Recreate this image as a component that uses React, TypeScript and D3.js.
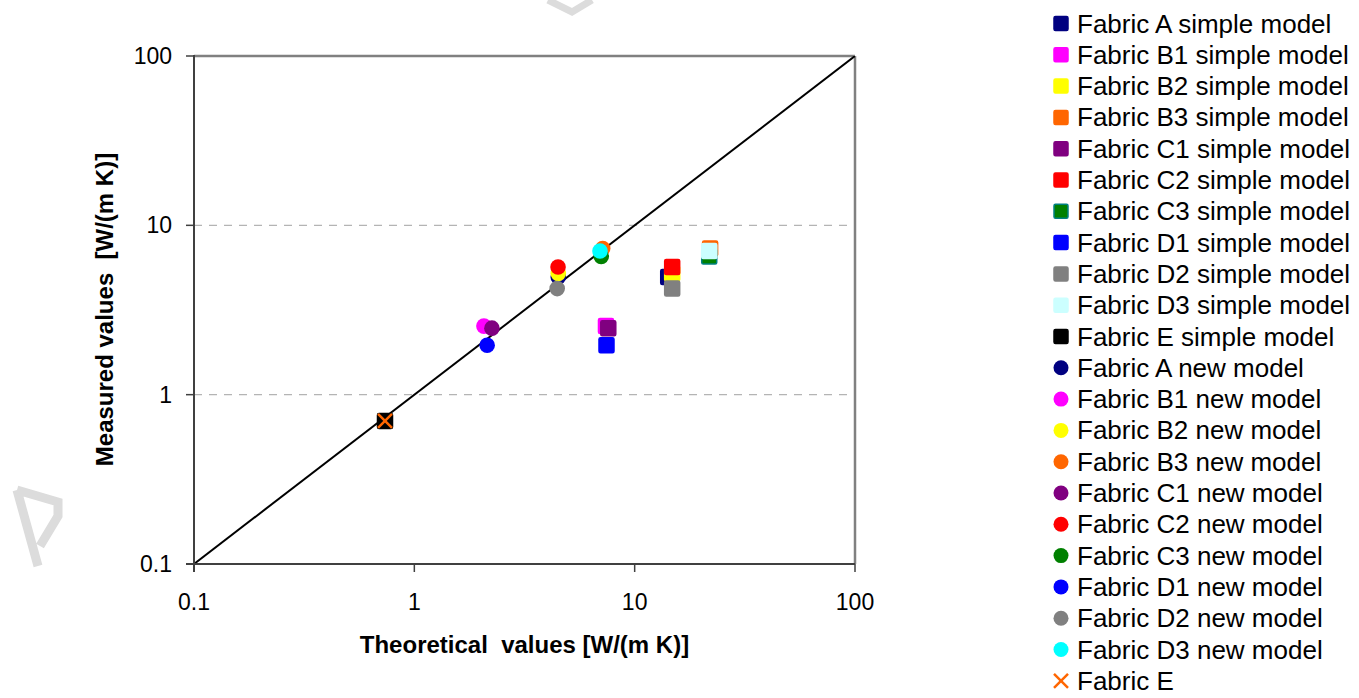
import React from "react";
import * as d3 from "d3";

const fabrics = ["A", "B1", "B2", "B3", "C1", "C2", "C3", "D1", "D2", "D3", "E"];
const simpleTheoretical = [14.2, 7.41, 14.8, 22.0, 7.59, 14.8, 21.8, 7.45, 14.8, 21.8, 0.736];
const newTheoretical = [4.5, 2.07, 4.5, 7.16, 2.25, 4.49, 7.05, 2.14, 4.45, 6.96];
const measured = [4.95, 2.54, 5.2, 7.3, 2.47, 5.68, 6.55, 1.96, 4.23, 7.05, 0.7];
const fabricETheoretical = 0.736;
const fabricEMeasured = 0.7;

const simpleFill = ["#000080", "#FF00FF", "#FFFF00", "#FF6600", "#800080", "#FF0000", "#008000", "#0000FF", "#808080", "#CCFFFF", "#000000"];
const simpleStroke = ["#000080", "#FF00FF", "#FFFF00", "#FF6600", "#800080", "#FF0000", "#008080", "#0000FF", "#808080", "#CCFFFF", "#000000"];
const newFill = ["#000080", "#FF00FF", "#FFFF00", "#FF6600", "#800080", "#FF0000", "#008000", "#0000FF", "#808080", "#00FFFF"];
const crossColor = "#FF6600";

const tickValues = [0.1, 1, 10, 100];
const tickLabels = ["0.1", "1", "10", "100"];
const gridValues = [1, 10];

const xTitle = "Theoretical  values [W/(m K)]";
const yTitle = "Measured values  [W/(m K)]";

const FONT = "'Liberation Sans', Arial, Helvetica, sans-serif";

export default function App() {
  const W = 1359;
  const H = 698;
  const left = 194, right = 855, top = 56, bottom = 564;
  const x = d3.scaleLog().domain([0.1, 100]).range([left, right]);
  const y = d3.scaleLog().domain([0.1, 100]).range([bottom, top]);

  const sq = 15;
  const r = 7.8;

  const diag = d3.line<number>().x((v) => x(v)).y((v) => y(v))([0.1, 100]) || "";

  type LegendItem = { label: string; kind: "square" | "circle" | "cross"; fill: string; stroke: string };
  const legendItems: LegendItem[] = [];
  fabrics.forEach((f, i) => legendItems.push({ label: `Fabric ${f} simple model`, kind: "square", fill: simpleFill[i], stroke: simpleStroke[i] }));
  fabrics.slice(0, 10).forEach((f, i) => legendItems.push({ label: `Fabric ${f} new model`, kind: "circle", fill: newFill[i], stroke: newFill[i] }));
  legendItems.push({ label: "Fabric E", kind: "cross", fill: crossColor, stroke: crossColor });

  const legendX = 1061;
  const legendY0 = 23.5;
  const legendStep = 31.3;

  return (
    <svg width={W} height={H} style={{ position: "absolute", left: 0, top: 0, background: "#fff" }} fontFamily={FONT}>
      <rect x={0} y={0} width={W} height={H} fill="#fff" />
      {/* watermark fragments */}
      <path d="M17,490 L38,566 M17,490 L58,502 L58,516 L40,546" fill="none" stroke="#dcdcdc" strokeWidth={9} strokeLinejoin="miter" />
      <path d="M548,0 L572,12 L592,0" fill="none" stroke="#dcdcdc" strokeWidth={7} />
      <defs>
        <clipPath id="plotClip">
          <rect x={left} y={top} width={right - left} height={bottom - top} />
        </clipPath>
      </defs>
      {/* gridlines */}
      {gridValues.map((g) => (
        <line key={"g" + g} x1={left} x2={right} y1={y(g)} y2={y(g)} stroke="#b4b4b4" strokeWidth={1.2} strokeDasharray="8,7" />
      ))}
      {/* plot border */}
      <line x1={left} x2={right} y1={top} y2={top} stroke="#808080" strokeWidth={2.5} />
      <line x1={right} x2={right} y1={top} y2={bottom} stroke="#808080" strokeWidth={2.5} />
      {/* diagonal */}
      <path d={diag} stroke="#000" strokeWidth={2} fill="none" clipPath="url(#plotClip)" />
      {/* axes */}
      <line x1={left} x2={left} y1={top - 1} y2={bottom + 8} stroke="#404040" strokeWidth={2} />
      <line x1={left - 8} x2={right} y1={bottom} y2={bottom} stroke="#404040" strokeWidth={2} />
      {tickValues.map((t, i) => (
        <g key={"yt" + t}>
          <line x1={left - 8} x2={left} y1={y(t)} y2={y(t)} stroke="#404040" strokeWidth={1.5} />
          <text x={172} y={y(t) + 8} textAnchor="end" fontSize={23} fill="#000">{tickLabels[i]}</text>
        </g>
      ))}
      {tickValues.map((t, i) => (
        <g key={"xt" + t}>
          <line x1={x(t)} x2={x(t)} y1={bottom} y2={bottom + 8} stroke="#404040" strokeWidth={1.5} />
          <text x={x(t)} y={610} textAnchor="middle" fontSize={23} fill="#000">{tickLabels[i]}</text>
        </g>
      ))}
      {/* titles */}
      <text x={(left + right) / 2} y={653} textAnchor="middle" fontSize={24} fontWeight="bold" fill="#000" style={{ whiteSpace: "pre" }}>{xTitle}</text>
      <text transform={`translate(113,${(153 + 466) / 2}) rotate(-90)`} textAnchor="middle" fontSize={24} fontWeight="bold" fill="#000" style={{ whiteSpace: "pre" }}>{yTitle}</text>
      {/* simple model squares, new model circles, Fabric E cross */}
      <g clipPath="url(#plotClip)">
        {simpleTheoretical.map((t, i) => (
          <rect key={"s" + i} x={x(t) - sq / 2} y={y(measured[i]) - sq / 2} width={sq} height={sq} rx={1.5}
            fill={simpleFill[i]} stroke={simpleStroke[i]} strokeWidth={1.5} />
        ))}
        {newTheoretical.map((t, i) => (
          <circle key={"n" + i} cx={x(t)} cy={y(measured[i])} r={r} fill={newFill[i]} />
        ))}
        <g stroke={crossColor} strokeWidth={2.5}>
          <line x1={x(fabricETheoretical) - 7} x2={x(fabricETheoretical) + 7} y1={y(fabricEMeasured) - 7} y2={y(fabricEMeasured) + 7} />
          <line x1={x(fabricETheoretical) - 7} x2={x(fabricETheoretical) + 7} y1={y(fabricEMeasured) + 7} y2={y(fabricEMeasured) - 7} />
        </g>
      </g>
      {/* legend */}
      {legendItems.map((it, i) => {
        const cy = legendY0 + i * legendStep;
        return (
          <g key={"l" + i}>
            {it.kind === "square" && (
              <rect x={legendX - 7} y={cy - 7} width={14} height={14} rx={1.5} fill={it.fill} stroke={it.stroke} strokeWidth={1.5} />
            )}
            {it.kind === "circle" && <circle cx={legendX} cy={cy} r={7.5} fill={it.fill} />}
            {it.kind === "cross" && (
              <g stroke={it.stroke} strokeWidth={2.5}>
                <line x1={legendX - 7} x2={legendX + 7} y1={cy - 7} y2={cy + 7} />
                <line x1={legendX - 7} x2={legendX + 7} y1={cy + 7} y2={cy - 7} />
              </g>
            )}
            <text x={1077} y={cy + 9} fontSize={26} fill="#000">{it.label}</text>
          </g>
        );
      })}
    </svg>
  );
}
